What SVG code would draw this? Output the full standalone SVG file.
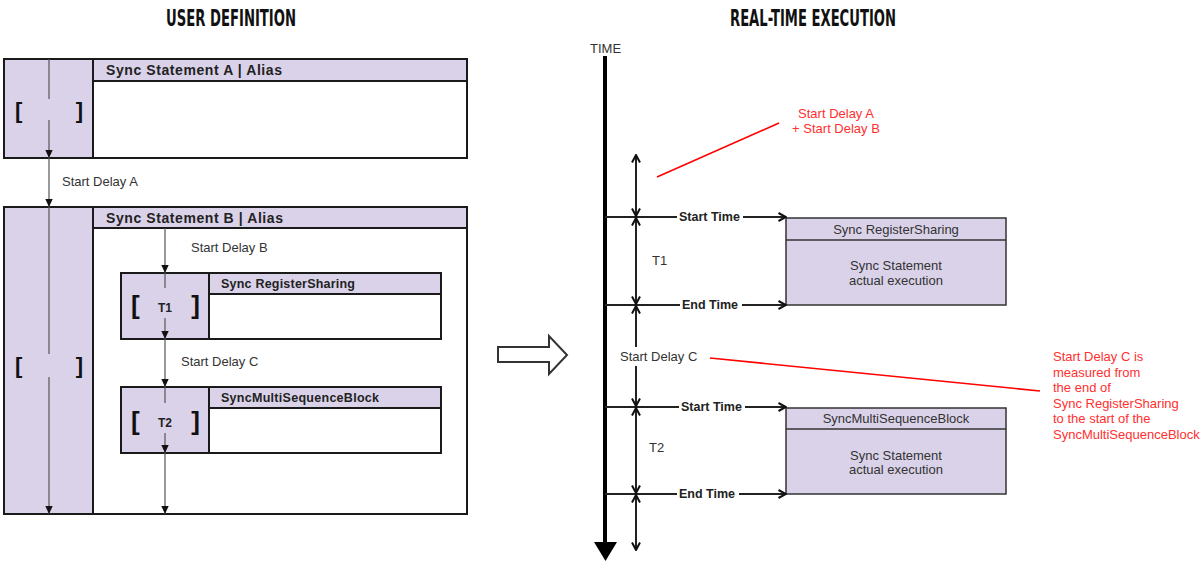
<svg xmlns="http://www.w3.org/2000/svg" width="1204" height="561" viewBox="0 0 1204 561">
  <style>
    .title { font-family: "DejaVu Sans Condensed", "DejaVu Sans", sans-serif; font-weight: bold; font-size: 23px; fill: #111; }
    .hdr { font-family: "Liberation Sans", Arial, sans-serif; font-weight: bold; fill: #222; }
    .lbl { font-family: "Liberation Sans", Arial, sans-serif; font-size: 13px; fill: #333; }
    .bold { font-family: "Liberation Sans", Arial, sans-serif; font-weight: bold; font-size: 12.5px; fill: #222; }
    .brk { font-family: "Liberation Sans", Arial, sans-serif; font-weight: bold; fill: #111; }
    .red { font-family: "Liberation Sans", Arial, sans-serif; font-size: 13px; fill: #ff3030; }
    .box { stroke: #1a1a1a; stroke-width: 2; }
    .white { fill: #ffffff; }
    .lav { fill: #dad2e9; }
    .rbox { fill: #dad2e9; stroke: #333; stroke-width: 1.5; }
    .flow { stroke: #555; stroke-width: 1.2; fill: none; }
    .tick { stroke: #222; stroke-width: 2; fill: none; }
    .note { stroke: #ff0000; stroke-width: 1.6; fill: none; }
  </style>
  <defs>
    <marker id="tri" viewBox="0 0 8 8" refX="8" refY="4" markerWidth="8" markerHeight="8" markerUnits="userSpaceOnUse" orient="auto">
      <path d="M0,0.3 L8,4 L0,7.7 z" fill="#111"/>
    </marker>
    <marker id="chev" viewBox="0 0 10 10" refX="9" refY="5" markerWidth="10" markerHeight="10" markerUnits="userSpaceOnUse" orient="auto-start-reverse">
      <path d="M1.5,1 L9,5 L1.5,9" fill="none" stroke="#111" stroke-width="2"/>
    </marker>
  </defs>

  <rect width="1204" height="561" fill="#ffffff"/>

  <!-- section titles -->
  <text class="title" x="166" y="26" textLength="130" lengthAdjust="spacingAndGlyphs">USER DEFINITION</text>
  <text class="title" x="730" y="26" textLength="166" lengthAdjust="spacingAndGlyphs">REAL-TIME EXECUTION</text>

  <!-- user definition: statement A -->
  <g id="stmtA">
    <rect class="box white" x="4" y="59" width="463" height="99"/>
    <rect class="box lav" x="4" y="59" width="89" height="99"/>
    <rect class="box lav" x="93" y="59" width="374" height="22"/>
    <text class="hdr" x="106" y="75" font-size="14" textLength="176" lengthAdjust="spacing">Sync Statement A | Alias</text>
    <text class="brk" x="15" y="118" font-size="22">[</text>
    <text class="brk" x="83" y="118" font-size="22" text-anchor="end">]</text>
  </g>

  <!-- user definition: statement B -->
  <g id="stmtB">
    <rect class="box white" x="4" y="207" width="463" height="307"/>
    <rect class="box lav" x="4" y="207" width="89" height="307"/>
    <rect class="box lav" x="93" y="207" width="374" height="21"/>
    <text class="hdr" x="106" y="223" font-size="14" textLength="177" lengthAdjust="spacing">Sync Statement B | Alias</text>
    <text class="brk" x="15" y="373" font-size="22">[</text>
    <text class="brk" x="83" y="373" font-size="22" text-anchor="end">]</text>
  </g>

  <!-- nested: Sync RegisterSharing -->
  <g id="registerSharing">
    <rect class="box white" x="121" y="273" width="320" height="66"/>
    <rect class="box lav" x="121" y="273" width="88" height="66"/>
    <rect class="box lav" x="209" y="273" width="232" height="21"/>
    <text class="hdr" x="221" y="288" font-size="12.5" textLength="134" lengthAdjust="spacing">Sync RegisterSharing</text>
    <text class="brk" x="131" y="314" font-size="26">[</text>
    <text class="brk" x="200" y="314" font-size="26" text-anchor="end">]</text>
    <text class="hdr" x="165" y="312" font-size="12" text-anchor="middle">T1</text>
  </g>

  <!-- nested: SyncMultiSequenceBlock -->
  <g id="multiSequenceBlock">
    <rect class="box white" x="121" y="387" width="320" height="66"/>
    <rect class="box lav" x="121" y="387" width="88" height="66"/>
    <rect class="box lav" x="209" y="387" width="232" height="21"/>
    <text class="hdr" x="221" y="402" font-size="12.5" textLength="158" lengthAdjust="spacing">SyncMultiSequenceBlock</text>
    <text class="brk" x="131" y="430" font-size="26">[</text>
    <text class="brk" x="200" y="430" font-size="26" text-anchor="end">]</text>
    <text class="hdr" x="165" y="427" font-size="12" text-anchor="middle">T2</text>
  </g>

  <!-- user definition flow lines -->
  <g id="definitionFlow">
    <line class="flow" x1="49" y1="59" x2="49" y2="99"/>
    <line class="flow" x1="49" y1="120" x2="49" y2="158" marker-end="url(#tri)"/>
    <line class="flow" x1="49" y1="158" x2="49" y2="207" marker-end="url(#tri)"/>
    <line class="flow" x1="49" y1="207" x2="49" y2="354"/>
    <line class="flow" x1="49" y1="377" x2="49" y2="514" marker-end="url(#tri)"/>
    <line class="flow" x1="165" y1="228" x2="165" y2="273" marker-end="url(#tri)"/>
    <line class="flow" x1="165" y1="273" x2="165" y2="288"/>
    <line class="flow" x1="165" y1="318" x2="165" y2="339" marker-end="url(#tri)"/>
    <line class="flow" x1="165" y1="339" x2="165" y2="387" marker-end="url(#tri)"/>
    <line class="flow" x1="165" y1="387" x2="165" y2="403"/>
    <line class="flow" x1="165" y1="433" x2="165" y2="453" marker-end="url(#tri)"/>
    <line class="flow" x1="165" y1="453" x2="165" y2="514" marker-end="url(#tri)"/>
    <text class="lbl" x="62" y="186">Start Delay A</text>
    <text class="lbl" x="191" y="252">Start Delay B</text>
    <text class="lbl" x="181" y="366">Start Delay C</text>
  </g>

  <!-- transition arrow -->
  <g id="transition">
    <polygon points="498,347 549,347 549,336 567,355 549,374 549,362 498,362" fill="#ffffff" stroke="#333" stroke-width="2" stroke-linejoin="miter"/>
  </g>

  <!-- real-time execution: time axis -->
  <g id="timeAxis">
    <text class="lbl" x="590" y="53" font-size="12" fill="#444">TIME</text>
    <line x1="605" y1="56" x2="605" y2="544" stroke="#000" stroke-width="4"/>
    <polygon points="594,542 617,542 605.5,561" fill="#000"/>
  </g>

  <!-- execution boxes -->
  <g id="execRegisterSharing">
    <rect class="rbox" x="786" y="218" width="220" height="87"/>
    <line x1="786" y1="240" x2="1006" y2="240" stroke="#333" stroke-width="1.5"/>
    <text class="lbl" x="896" y="234" text-anchor="middle">Sync RegisterSharing</text>
    <text class="lbl" x="896" y="270" text-anchor="middle">Sync Statement</text>
    <text class="lbl" x="896" y="285" text-anchor="middle">actual execution</text>
  </g>
  <g id="execMultiSequenceBlock">
    <rect class="rbox" x="786" y="408" width="220" height="86"/>
    <line x1="786" y1="429" x2="1006" y2="429" stroke="#333" stroke-width="1.5"/>
    <text class="lbl" x="896" y="423" text-anchor="middle">SyncMultiSequenceBlock</text>
    <text class="lbl" x="896" y="460" text-anchor="middle">Sync Statement</text>
    <text class="lbl" x="896" y="474" text-anchor="middle">actual execution</text>
  </g>

  <!-- execution timing connectors -->
  <g id="timingConnectors">
    <line class="tick" x1="605" y1="217" x2="677" y2="217"/>
    <text class="bold" x="679" y="221">Start Time</text>
    <line class="tick" x1="743" y1="217" x2="786" y2="217" marker-end="url(#chev)"/>

    <line class="tick" x1="605" y1="305" x2="680" y2="305"/>
    <text class="bold" x="682" y="309">End Time</text>
    <line class="tick" x1="742" y1="305" x2="786" y2="305" marker-end="url(#chev)"/>

    <line class="tick" x1="605" y1="407" x2="679" y2="407"/>
    <text class="bold" x="681" y="411">Start Time</text>
    <line class="tick" x1="745" y1="407" x2="786" y2="407" marker-end="url(#chev)"/>

    <line class="tick" x1="605" y1="494" x2="677" y2="494"/>
    <text class="bold" x="679" y="498">End Time</text>
    <line class="tick" x1="739" y1="494" x2="786" y2="494" marker-end="url(#chev)"/>

    <line class="tick" x1="636" y1="155" x2="636" y2="216" marker-start="url(#chev)" marker-end="url(#chev)"/>
    <line class="tick" x1="636" y1="218" x2="636" y2="304" marker-start="url(#chev)" marker-end="url(#chev)"/>
    <line class="tick" x1="636" y1="306" x2="636" y2="347" marker-start="url(#chev)"/>
    <line class="tick" x1="636" y1="366" x2="636" y2="406" marker-end="url(#chev)"/>
    <line class="tick" x1="636" y1="408" x2="636" y2="493" marker-start="url(#chev)" marker-end="url(#chev)"/>
    <line class="tick" x1="636" y1="495" x2="636" y2="550" marker-start="url(#chev)" marker-end="url(#chev)"/>

    <text class="lbl" x="652" y="265">T1</text>
    <text class="lbl" x="649" y="452">T2</text>
    <text class="lbl" x="620" y="361">Start Delay C</text>
  </g>

  <!-- annotations -->
  <g id="annotations">
    <line class="note" x1="657" y1="177" x2="779" y2="123"/>
    <text class="red" x="836" y="118" text-anchor="middle">Start Delay A</text>
    <text class="red" x="836" y="133" text-anchor="middle">+ Start Delay B</text>

    <line class="note" x1="710" y1="358" x2="1040" y2="391"/>
    <text class="red" x="1053" y="361">Start Delay C is</text>
    <text class="red" x="1053" y="376.5">measured from</text>
    <text class="red" x="1053" y="392">the end of</text>
    <text class="red" x="1053" y="407.5">Sync RegisterSharing</text>
    <text class="red" x="1053" y="423">to the start of the</text>
    <text class="red" x="1053" y="438.5">SyncMultiSequenceBlock</text>
  </g>
</svg>
